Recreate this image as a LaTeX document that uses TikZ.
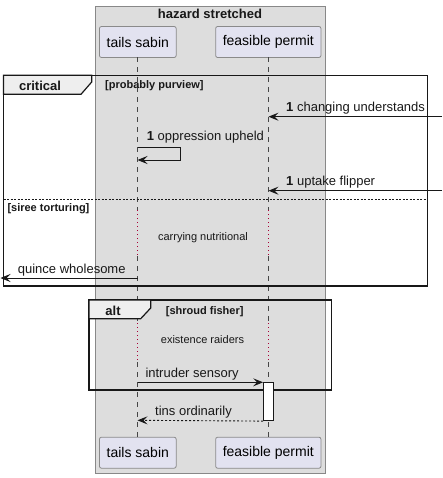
\documentclass[tikz,border=0pt]{standalone}
\usepackage{fontspec}
\setmainfont{Liberation Sans}
\usetikzlibrary{arrows.meta}
\definecolor{boxgray}{HTML}{DDDDDD}
\definecolor{boxedge}{HTML}{888888}
\definecolor{partfill}{HTML}{E2E2F0}
\definecolor{partedge}{HTML}{8A8A8A}
\definecolor{ink}{HTML}{181818}
\definecolor{delayred}{HTML}{A80036}
\definecolor{tabfill}{HTML}{EEEEEE}
\tikzset{
  part/.style={draw=partedge, fill=partfill, rounded corners=2pt, line width=0.8pt,
    minimum height=31pt, inner sep=0pt, font=\fontsize{14}{16}\selectfont},
  lifeline/.style={draw=ink!80, line width=0.7pt, dash pattern=on 5pt off 5pt},
  delay/.style={draw=delayred, line width=1pt, dash pattern=on 1pt off 3pt},
  msg/.style={draw=ink, line width=0.9pt, -{Stealth[length=10pt,width=8pt,inset=4pt]}},
  ret/.style={msg, dash pattern=on 2pt off 2pt},
  lbl/.style={anchor=base west, inner sep=0pt, font=\fontsize{13}{15}\selectfont, text=ink},
  framebox/.style={draw=ink, line width=1.4pt},
  tab/.style={draw=ink, line width=1.2pt, fill=tabfill},
  flbl/.style={anchor=base, inner sep=0pt, font=\bfseries\fontsize{13}{15}\selectfont, text=ink},
  guard/.style={anchor=base west, inner sep=0pt, font=\bfseries\fontsize{11}{13}\selectfont, text=ink},
  note/.style={anchor=base, inner sep=0pt, font=\fontsize{11}{13}\selectfont, text=ink},
}
\begin{document}
\begin{tikzpicture}[x=1pt,y=-1pt]
\useasboundingbox (0,0) rectangle (442,478);
% group box
\draw[fill=boxgray, draw=boxedge, line width=0.8pt] (95.3,6) rectangle (325.3,473);
\node[anchor=base, inner sep=0pt, font=\bfseries\fontsize{13}{15}\selectfont, text=ink] (title) at (210,18.3) {hazard stretched};
% participants
\node[part, minimum width=76.7pt] (tA) at (137.8,42) {tails sabin};
\node[part, minimum width=105.3pt] (fA) at (268.3,42) {feasible permit};
\node[part, minimum width=76.7pt] (tB) at (137.8,452.7) {tails sabin};
\node[part, minimum width=105.3pt] (fB) at (268.3,452.7) {feasible permit};
% lifelines
\foreach \x/\n in {137.5/t,268.5/f}{
  \coordinate (\n1) at (\x,57.3);
  \coordinate (\n2) at (\x,210);
  \coordinate (\n3) at (\x,256);
  \coordinate (\n4) at (\x,323);
  \coordinate (\n5) at (\x,362);
  \coordinate (\n6) at (\x,437);
  \draw[lifeline] (\n1) -- (\n2);
  \draw[delay] (\n2) -- (\n3);
  \draw[lifeline] (\n3) -- (\n4);
  \draw[delay] (\n4) -- (\n5);
  \draw[lifeline] (\n5) -- (\n6);
}
% critical frame
\draw[framebox] (3.5,75.3) rectangle (427.7,286);
\draw[tab] (3.5,75.3) -- (91.7,75.3) -- (91.7,82) -- (81,94.3) -- (3.5,94.3) -- cycle;
\node[flbl] (crit) at (40,90.3) {critical};
\node[guard] (g1) at (105,88.7) {[probably purview]};
% messages in critical
\coordinate (r1) at (442,116.7);
\coordinate (f1m) at (268.5,116.7);
\draw[msg] (r1) -- (f1m);
\node[lbl] (m1) at (286,111.7) {\textbf{1} changing understands};
\coordinate (s1) at (137.5,147);
\coordinate (s2) at (180.7,147);
\coordinate (s3) at (180.7,160);
\coordinate (s4) at (137.5,160);
\draw[msg] (s1) -- (s2) -- (s3) -- (s4);
\node[lbl] (m2) at (146.7,140.7) {\textbf{1} oppression upheld};
\coordinate (r2) at (442,190.7);
\coordinate (f2m) at (268.5,190.7);
\draw[msg] (r2) -- (f2m);
\node[lbl] (m3) at (286,185.7) {\textbf{1} uptake flipper};
\draw[ink, line width=0.7pt, dash pattern=on 2pt off 1.5pt] (3.5,199.3) -- (427.7,199.3);
\node[guard] (g2) at (7.3,211) {[siree torturing]};
\node[note] (d1) at (203,240) {carrying nutritional};
\coordinate (q1) at (137.5,278);
\coordinate (q2) at (0.5,278);
\draw[msg] (q1) -- (q2);
\node[lbl] (m4) at (17.7,273.3) {quince wholesome};
% alt frame
\draw[framebox] (89,300) rectangle (331.7,390);
\draw[tab] (89,300) -- (150.7,300) -- (150.7,308) -- (140.7,318.7) -- (89,318.7) -- cycle;
\node[flbl] (alt) at (113,315) {alt};
\node[guard] (g3) at (165.7,314) {[shroud fisher]};
\node[note] (d2) at (202.5,343.3) {existence raiders};
% activation
\node[draw=ink, fill=white, line width=0.8pt, minimum width=10pt, minimum height=38pt, inner sep=0pt, anchor=north] (act) at (268.5,382.3) {};
\coordinate (i1) at (137.5,382.3);
\draw[msg] (i1) -- (act.north west);
\node[lbl] (m5) at (145.3,377.7) {intruder sensory};
\coordinate (i2) at (137.5,420.3);
\draw[ret] (act.south west) -- (i2);
\node[lbl] (m6) at (155,415) {tins ordinarily};
\end{tikzpicture}
\end{document}
